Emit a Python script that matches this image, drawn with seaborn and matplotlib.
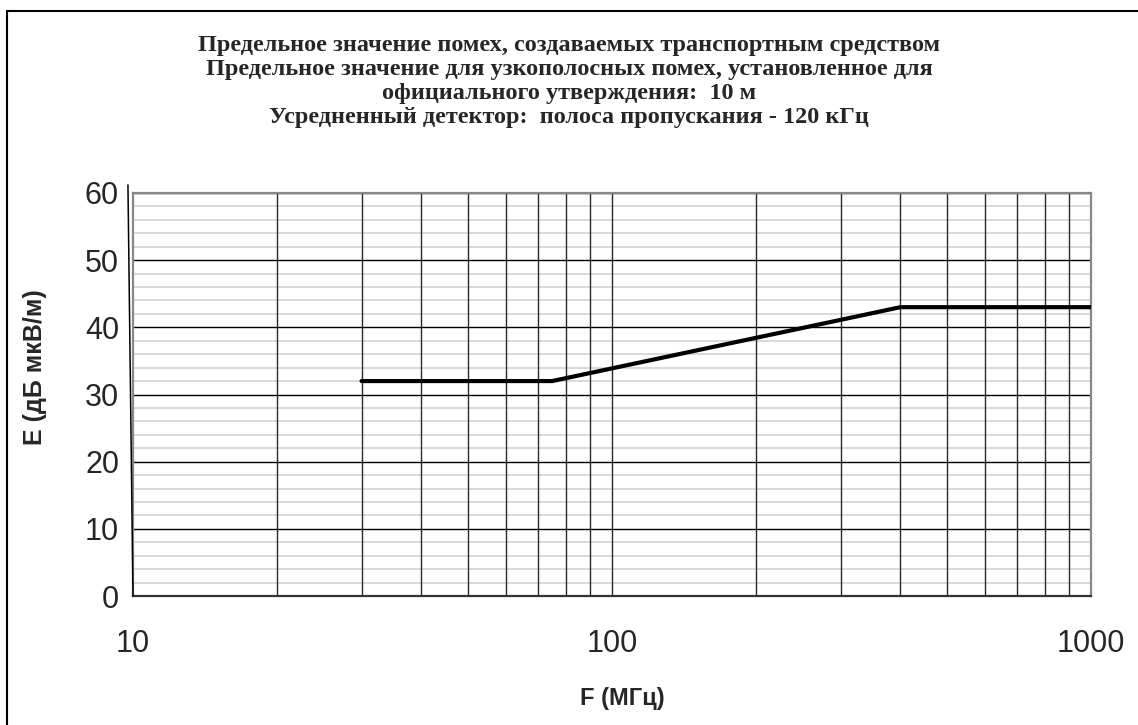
import matplotlib
matplotlib.use("Agg")
import matplotlib.pyplot as plt
import seaborn as sns
import pandas as pd
import numpy as np
from matplotlib.ticker import FixedLocator, NullFormatter, FixedFormatter
from matplotlib.patches import Rectangle

# ---- data ----
freq_mhz = [30, 75, 400, 1000]
limit_db = [32, 32, 43, 43]
stray_x = [9.76, 10]
stray_y = [61.2, 0]
x_major = [10, 100, 1000]
x_labels = ["10", "100", "1000"]
y_major = [0, 10, 20, 30, 40, 50, 60]
title_lines = [
    "Предельное значение помех, создаваемых транспортным средством",
    "Предельное значение для узкополосных помех, установленное для",
    "официального утверждения:  10 м",
    "Усредненный детектор:  полоса пропускания - 120 кГц",
]
xlabel = "F (МГц)"
ylabel = "E (дБ мкВ/м)"

sns.set_style("white")
plt.rcParams["font.family"] = ["Liberation Sans", "DejaVu Sans"]

fig = plt.figure(figsize=(11.38, 7.25), dpi=100)
ax = fig.add_axes([133/1138, 1-596/725, (1091-133)/1138, (596-193)/725])

df = pd.DataFrame({"F": freq_mhz, "E": limit_db})
sns.lineplot(data=df, x="F", y="E", ax=ax, color="black", linewidth=3.0, zorder=5)
ax.plot(stray_x, stray_y, color="black", linewidth=1.1, clip_on=False, zorder=6)

ax.set_xscale("log")
ax.set_xlim(10, 1000)
ax.set_ylim(0, 60)

ax.xaxis.set_major_locator(FixedLocator(x_major))
ax.xaxis.set_major_formatter(FixedFormatter(x_labels))
minor_x = [m * d for d in (10, 100) for m in range(2, 10)]
ax.xaxis.set_minor_locator(FixedLocator(minor_x))
ax.xaxis.set_minor_formatter(NullFormatter())
ax.yaxis.set_major_locator(FixedLocator(y_major))
ax.yaxis.set_minor_locator(FixedLocator(list(range(0, 61, 2))))

ax.grid(False)
for v in y_major:
    ax.axhline(v, color="black", linewidth=1.0, zorder=2)
for v in range(0, 61, 2):
    if v % 10:
        ax.axhline(v, color="#d9d9d9", linewidth=1.4, zorder=1)
for v in minor_x + [100]:
    ax.axvline(v, color="#2a2a2a", linewidth=1.0, zorder=2)

ax.tick_params(axis="x", which="major", direction="out", length=9, width=1,
               color="#555555", labelsize=22, pad=15)
ax.tick_params(axis="x", which="minor", length=0)
ax.tick_params(axis="y", which="major", direction="out", length=7, width=1,
               color="black", labelsize=22, pad=3)
ax.tick_params(axis="y", which="minor", length=0)
ax.set_xlabel("")
ax.set_ylabel("")

for side in ["left", "right", "top"]:
    ax.spines[side].set_color("#888888")
    ax.spines[side].set_linewidth(1.6)
ax.spines["bottom"].set_color("#333333")
ax.spines["bottom"].set_linewidth(1.6)

fig.text(622/1138, 1-699/725, xlabel, ha="center", va="center",
         fontsize=17, fontweight="bold")
fig.text(35/1138, 1-367/725, ylabel, ha="center", va="center", rotation=90,
         fontsize=18, fontweight="bold")

ys = [46, 70, 93, 117]
for line, y in zip(title_lines, ys):
    fig.text(0.5, 1-y/725, line, ha="center", va="center", fontsize=17.5,
             fontweight="bold", family=["Liberation Serif", "DejaVu Serif"])

fig.patches.append(Rectangle((7/1138, -0.01), 1.02, 1-11/725+0.01,
                             transform=fig.transFigure, fill=False,
                             edgecolor="black", linewidth=1.5))

fig.savefig("out.png", dpi=100)
